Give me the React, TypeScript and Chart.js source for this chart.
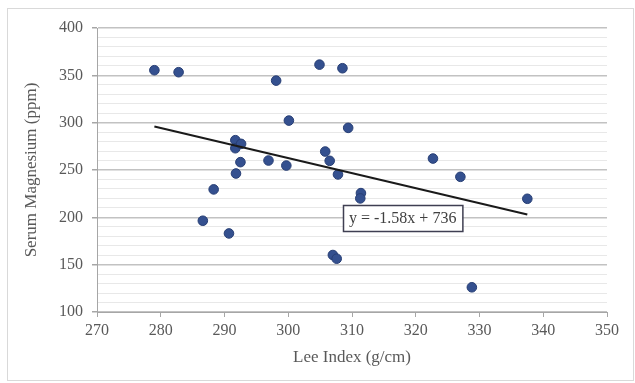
import React, { useEffect, useRef } from 'react';
import { Chart, registerables } from 'chart.js';

Chart.register(...registerables);

// Lee Index (g/cm) for each animal
const leeIndex = [279.0, 282.8, 298.1, 304.9, 308.5, 300.1, 309.4, 291.7, 291.7, 292.6, 292.5, 291.8, 296.9, 299.7, 305.8, 306.5, 307.8, 311.4, 311.3, 288.3, 286.6, 290.7, 307.0, 307.6, 322.7, 327.0, 337.5, 328.8];
// Serum Magnesium (ppm)
const serumMg = [355.4, 353.3, 344.4, 361.3, 357.5, 302.2, 294.5, 281.5, 273.0, 277.6, 258.3, 246.3, 260.0, 254.7, 269.5, 259.7, 245.3, 225.6, 220.0, 229.5, 196.4, 183.0, 160.2, 156.3, 262.1, 242.8, 219.6, 126.1];
// Linear trendline end points (as drawn)
const trendX = [279.0, 337.5];
const trendY = [296.0, 203.0];
// Axis ranges
const xRange = [270, 350];
const yRange = [100, 400];
const xTitle = 'Lee Index (g/cm)';
const yTitle = 'Serum Magnesium (ppm)';
const equationText = 'y = -1.58x + 736';
const equationAnchor = [308.6, 199.6];

const FONT = "'Liberation Serif', 'Times New Roman', serif";
const TEXT = '#595959';

export default function App() {
  const ref = useRef<HTMLCanvasElement | null>(null);
  useEffect(() => {
    const canvas = ref.current;
    if (!canvas) return;

    const framePlugin = {
      id: 'frame',
      beforeDraw(chart: any) {
        const ctx = chart.ctx;
        ctx.save();
        ctx.fillStyle = '#ffffff';
        ctx.fillRect(0, 0, chart.width, chart.height);
        ctx.strokeStyle = '#d9d9d9';
        ctx.lineWidth = 1;
        ctx.strokeRect(7.5, 8.5, 626, 372);
        ctx.restore();
      },
    };

    const equationPlugin = {
      id: 'equation',
      afterDatasetsDraw(chart: any) {
        const ctx = chart.ctx;
        const xs = chart.scales.x;
        const ys = chart.scales.y;
        const left = Math.round(xs.getPixelForValue(equationAnchor[0]));
        const cy = Math.round(ys.getPixelForValue(equationAnchor[1]));
        ctx.save();
        ctx.font = `16px ${FONT}`;
        const w = ctx.measureText(equationText).width + 12;
        const h = 26;
        ctx.fillStyle = '#ffffff';
        ctx.fillRect(left, cy - h / 2, w, h);
        ctx.strokeStyle = '#3f3f52';
        ctx.lineWidth = 1.5;
        ctx.strokeRect(left + 0.5, cy - h / 2 + 0.5, w, h);
        ctx.fillStyle = '#404040';
        ctx.textBaseline = 'middle';
        ctx.textAlign = 'left';
        ctx.fillText(equationText, left + 6, cy + 1);
        ctx.restore();
      },
    };

    const chart = new Chart(canvas, {
      type: 'scatter',
      data: {
        datasets: [
          {
            label: 'Serum Magnesium',
            data: leeIndex.map((x, i) => ({ x, y: serumMg[i] })),
            backgroundColor: '#34508f',
            borderColor: '#283f75',
            borderWidth: 1,
            pointRadius: 4.8,
            order: 2,
          },
          {
            type: 'line',
            label: 'Trend',
            data: trendX.map((x, i) => ({ x, y: trendY[i] })),
            borderColor: '#1a1a1a',
            borderWidth: 2,
            pointRadius: 0,
            fill: false,
            order: 1,
          } as any,
        ],
      },
      options: {
        responsive: false,
        animation: false,
        devicePixelRatio: 1,
        layout: { padding: { top: 28, right: 28, bottom: 0, left: 0 } },
        plugins: {
          legend: { display: false },
          tooltip: { enabled: false },
        },
        scales: {
          x: {
            type: 'linear',
            min: xRange[0],
            max: xRange[1],
            afterFit(scale: any) {
              scale.height = 71;
            },
            ticks: {
              stepSize: 10,
              color: TEXT,
              font: { family: FONT, size: 16 },
              padding: 4,
              maxRotation: 0,
            },
            grid: {
              drawOnChartArea: false,
              drawTicks: true,
              tickLength: 5,
              color: '#a6a6a6',
            },
            border: { color: '#a6a6a6', width: 1 },
            title: {
              display: true,
              text: xTitle,
              color: TEXT,
              font: { family: FONT, size: 17 },
              padding: { top: 0, bottom: 15 },
            },
          },
          y: {
            type: 'linear',
            min: yRange[0],
            max: yRange[1],
            afterFit(scale: any) {
              scale.width = 97;
            },
            ticks: {
              stepSize: 10,
              autoSkip: false,
              color: TEXT,
              font: { family: FONT, size: 16 },
              padding: 9,
              callback: (v: any) => (Number(v) % 50 === 0 ? String(v) : ''),
            },
            grid: {
              drawTicks: true,
              tickLength: 5,
              color: (c: any) => (c.tick && c.tick.value % 50 === 0 ? '#c2c2c2' : '#e8e8e8'),
              lineWidth: (c: any) => (c.tick && c.tick.value % 50 === 0 ? 1.5 : 1),
              tickColor: (c: any) => (c.tick && c.tick.value % 50 === 0 ? '#a6a6a6' : 'rgba(0,0,0,0)'),
            },
            border: { color: '#a6a6a6', width: 1 },
            title: {
              display: true,
              text: yTitle,
              color: TEXT,
              font: { family: FONT, size: 17 },
              padding: { top: 21, bottom: 0 },
            },
          },
        },
      },
      plugins: [framePlugin, equationPlugin],
    });
    return () => chart.destroy();
  }, []);

  return (
    <div style={{ position: 'fixed', left: 0, top: 0, width: 635, height: 383, background: '#fff' }}>
      <canvas ref={ref} width={635} height={383} style={{ display: 'block', width: 635, height: 383 }} />
    </div>
  );
}
